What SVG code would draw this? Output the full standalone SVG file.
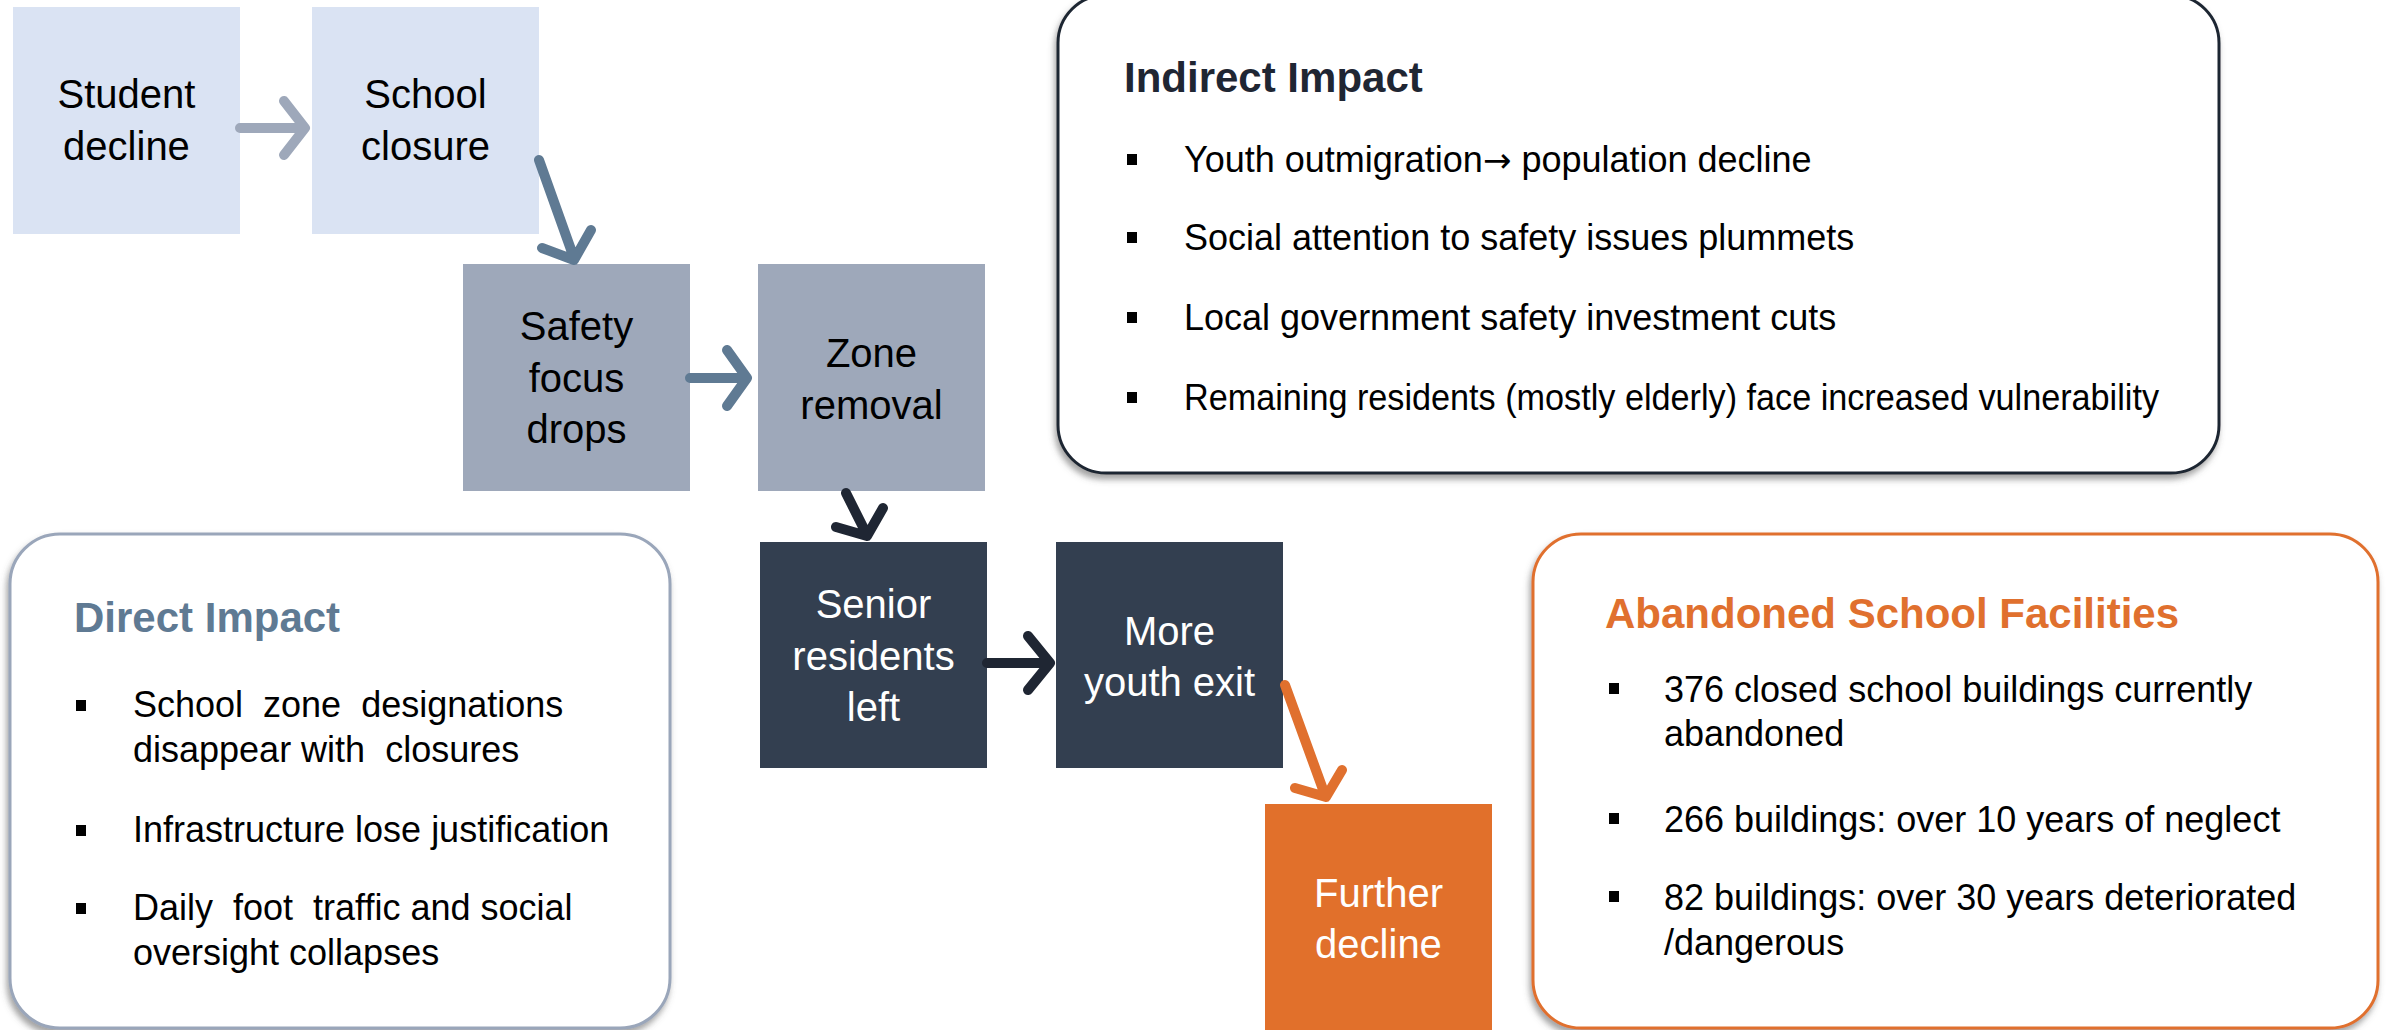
<svg xmlns="http://www.w3.org/2000/svg" width="2397" height="1030" viewBox="0 0 2397 1030">
<defs>
<filter id="sh" x="-5%" y="-5%" width="110%" height="115%">
<feDropShadow dx="-2" dy="5" stdDeviation="3" flood-color="#555" flood-opacity="0.55"/>
</filter>
<style>
.nt{font-family:"Liberation Sans",Arial,sans-serif;font-size:40px;text-anchor:middle;fill:#000}
.nw{fill:#fff}
.tt{font-family:"Liberation Sans",Arial,sans-serif;font-size:42px;font-weight:bold}
.bt{font-family:"Liberation Sans",Arial,sans-serif;font-size:36px;fill:#000}
.bu{fill:#000}
.pan{fill:#fff;stroke-width:3}
.ar{fill:none;stroke-width:10;stroke-linecap:round;stroke-linejoin:round}
</style>
</defs>
<rect width="2397" height="1030" fill="#fff"/>

<g id="node-student-decline">
<rect x="13" y="7" width="227" height="227" fill="#DAE3F3"/>
<text class="nt" x="126.5"><tspan x="126.5" y="108">Student</tspan><tspan x="126.5" y="160">decline</tspan></text>
</g>
<g id="node-school-closure">
<rect x="312" y="7" width="227" height="227" fill="#DAE3F3"/>
<text class="nt"><tspan x="425.5" y="108">School</tspan><tspan x="425.5" y="160">closure</tspan></text>
</g>
<g id="node-safety-focus-drops">
<rect x="463" y="264" width="227" height="227" fill="#9EA8BA"/>
<text class="nt"><tspan x="576.5" y="340">Safety</tspan><tspan x="576.5" y="392">focus</tspan><tspan x="576.5" y="443">drops</tspan></text>
</g>
<g id="node-zone-removal">
<rect x="758" y="264" width="227" height="227" fill="#9EA8BA"/>
<text class="nt"><tspan x="871.5" y="367">Zone</tspan><tspan x="871.5" y="419">removal</tspan></text>
</g>
<g id="node-senior-residents-left">
<rect x="760" y="542" width="227" height="226" fill="#333F50"/>
<text class="nt nw"><tspan x="873.5" y="618">Senior</tspan><tspan x="873.5" y="670">residents</tspan><tspan x="873.5" y="721">left</tspan></text>
</g>
<g id="node-more-youth-exit">
<rect x="1056" y="542" width="227" height="226" fill="#333F50"/>
<text class="nt nw"><tspan x="1169.5" y="645">More</tspan><tspan x="1169.5" y="696">youth exit</tspan></text>
</g>
<g id="node-further-decline">
<rect x="1265" y="804" width="227" height="230" fill="#E1702B"/>
<text class="nt nw"><tspan x="1378.5" y="907">Further</tspan><tspan x="1378.5" y="958">decline</tspan></text>
</g>

<g id="connectors">
<path class="ar" stroke="#9EA8BA" d="M240 128 H304 M284 101 L305 128 L284 155"/>
<path class="ar" stroke="#5F7A93" d="M539 160 L574 258 M542 248 L574 260 L591 230"/>
<path class="ar" stroke="#5F7A93" d="M690 378 H746 M727 350 L747 378 L727 406"/>
<path class="ar" stroke="#1F2633" d="M846 493 L867 535 M836 527 L867 536 L883 508"/>
<path class="ar" stroke="#1F2633" d="M987 663 H1049 M1028 636 L1050 663 L1028 690"/>
<path class="ar" stroke="#E0702E" d="M1285 685 L1325 795 M1295 788 L1326 797 L1342 770"/>
</g>

<g id="panel-direct-impact">
<rect class="pan" x="10" y="534" width="660" height="494" rx="50" ry="50" stroke="#9AA6BA" filter="url(#sh)"/>
<text class="tt" x="74" y="632" fill="#5F7A93">Direct Impact</text>
<rect class="bu" x="76" y="700" width="10" height="11"/>
<rect class="bu" x="76" y="825" width="10" height="11"/>
<rect class="bu" x="76" y="903" width="10" height="11"/>
<text class="bt" xml:space="preserve"><tspan x="133" y="717">School  zone  designations</tspan><tspan x="133" y="762">disappear with  closures</tspan><tspan x="133" y="842">Infrastructure lose justification</tspan><tspan x="133" y="920">Daily  foot  traffic and social</tspan><tspan x="133" y="965">oversight collapses</tspan></text>
</g>

<g id="panel-indirect-impact">
<rect class="pan" x="1058" y="-5" width="1161" height="478" rx="48" ry="48" stroke="#1F2633" filter="url(#sh)"/>
<text class="tt" x="1124" y="92" fill="#1F2633">Indirect Impact</text>
<rect class="bu" x="1127" y="154" width="10" height="11"/>
<rect class="bu" x="1127" y="232" width="10" height="11"/>
<rect class="bu" x="1127" y="312" width="10" height="11"/>
<rect class="bu" x="1127" y="392" width="10" height="11"/>
<text class="bt"><tspan x="1184" y="172">Youth outmigration<tspan font-family="'DejaVu Sans',sans-serif" font-size="34">→</tspan> population decline</tspan><tspan x="1184" y="250">Social attention to safety issues plummets</tspan><tspan x="1184" y="330">Local government safety investment cuts</tspan><tspan x="1184" y="410" textLength="975" lengthAdjust="spacingAndGlyphs">Remaining residents (mostly elderly) face increased vulnerability</tspan></text>
</g>

<g id="panel-abandoned-school-facilities">
<rect class="pan" x="1533" y="534" width="845" height="494" rx="48" ry="48" stroke="#E0702E" filter="url(#sh)"/>
<text class="tt" x="1605" y="628" fill="#E0702E">Abandoned School Facilities</text>
<rect class="bu" x="1609" y="683" width="10" height="11"/>
<rect class="bu" x="1609" y="813" width="10" height="11"/>
<rect class="bu" x="1609" y="891" width="10" height="11"/>
<text class="bt"><tspan x="1664" y="702">376 closed school buildings currently</tspan><tspan x="1664" y="746">abandoned</tspan><tspan x="1664" y="832">266 buildings: over 10 years of neglect</tspan><tspan x="1664" y="910">82 buildings: over 30 years deteriorated</tspan><tspan x="1664" y="955">/dangerous</tspan></text>
</g>
</svg>
